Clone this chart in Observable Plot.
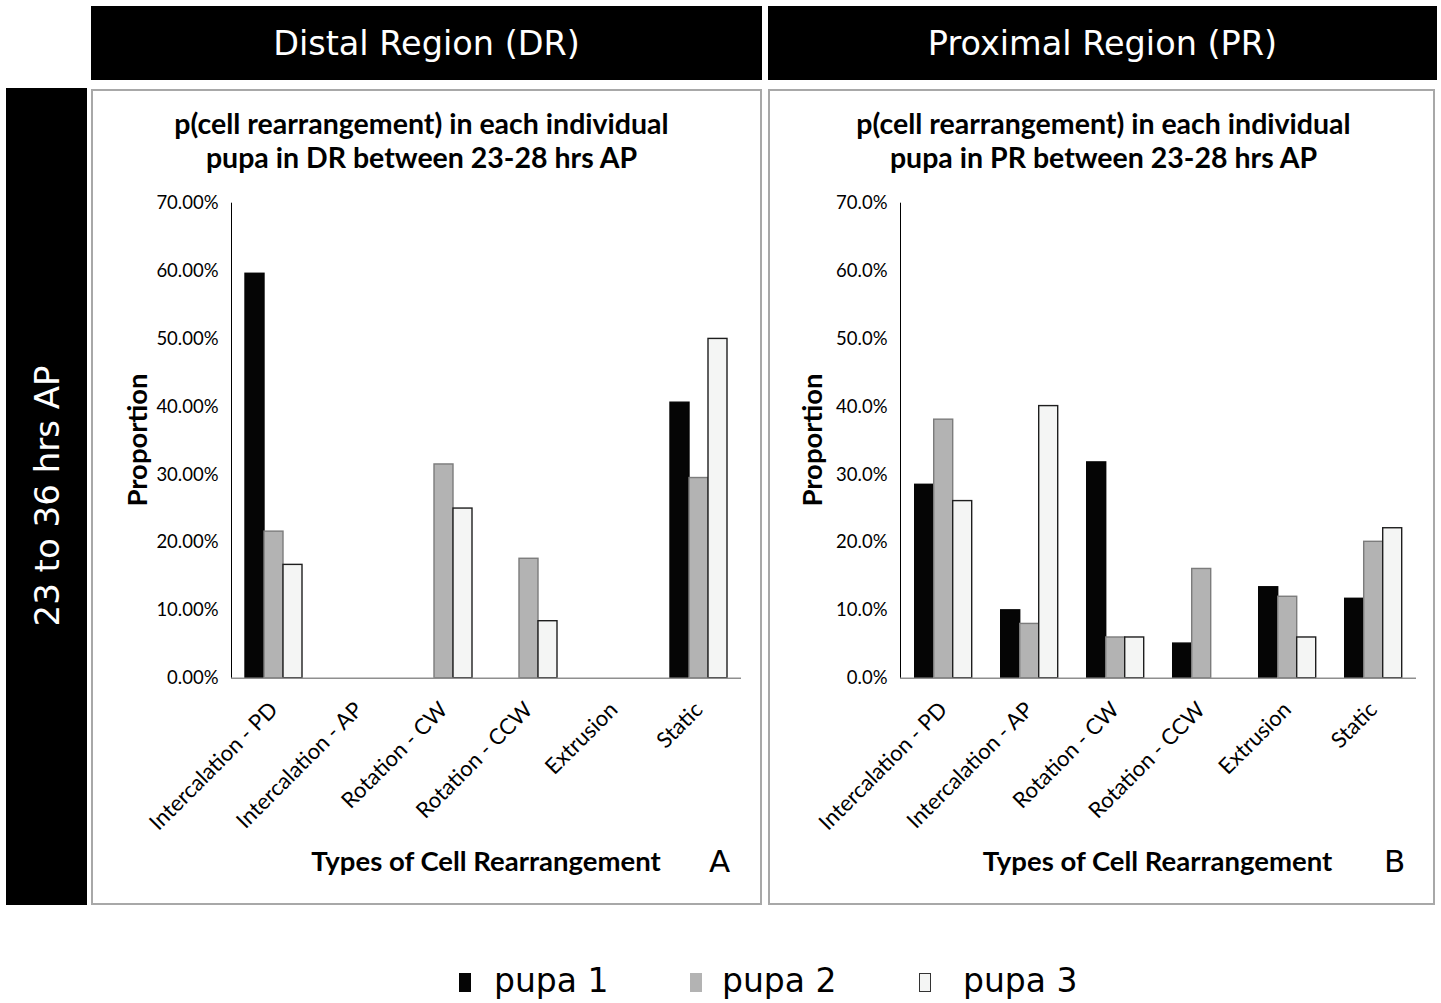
<!DOCTYPE html>
<html><head><meta charset="utf-8">
<script src="https://cdn.jsdelivr.net/npm/d3@7"></script>
<script src="https://cdn.jsdelivr.net/npm/@observablehq/plot@0.6"></script>
<style>
html,body{margin:0;padding:0;background:#fff}
body{width:1441px;height:1003px;position:relative;overflow:hidden}
.abs{position:absolute}
.hdr{background:#000;color:#fff;font:33.5px "DejaVu Sans";display:flex;align-items:center;justify-content:center;white-space:nowrap}
.panel{border:2px solid #a8a8a8;box-sizing:border-box}
.title{font:bold 28.5px Lato;text-align:center;line-height:34px;color:#000;white-space:nowrap}
.xt{font:bold 27.5px Lato;line-height:30px;color:#000;white-space:nowrap;text-align:center}
.yt{font:bold 27.5px Lato;line-height:30px;color:#000;white-space:nowrap;transform:translate(-50%,-50%) rotate(-90deg)}
.lett{font:31px "DejaVu Sans";line-height:34px;color:#000}
.side{font:34px "DejaVu Sans";color:#fff;white-space:nowrap;transform:translate(-50%,-50%) rotate(-90deg)}
.leg{font:33px "DejaVu Sans";color:#000;white-space:nowrap;line-height:38px}
svg [aria-label="fx-axis tick label"]{font-size:22px}
</style>
</head><body>
<script>
const categories = ["Intercalation - PD","Intercalation - AP","Rotation - CW","Rotation - CCW","Extrusion","Static"];
const pupae = ["pupa 1","pupa 2","pupa 3"];
const drPupa1 = [0.596, 0, 0, 0, 0, 0.406];
const drPupa2 = [0.216, 0, 0.315, 0.176, 0, 0.295];
const drPupa3 = [0.167, 0, 0.250, 0.084, 0, 0.500];
const prPupa1 = [0.285, 0.100, 0.318, 0.051, 0.134, 0.117];
const prPupa2 = [0.381, 0.080, 0.060, 0.161, 0.120, 0.201];
const prPupa3 = [0.261, 0.401, 0.060, 0, 0.060, 0.221];
const yTicks = [0, 0.1, 0.2, 0.3, 0.4, 0.5, 0.6, 0.7];
const drTickFormat = ".2%";
const prTickFormat = ".1%";
const headerTexts = ["Distal Region (DR)", "Proximal Region (PR)"];
const sideText = "23 to 36 hrs AP";
const drTitle = ["p(cell rearrangement) in each individual", "pupa in DR between 23-28 hrs AP"];
const prTitle = ["p(cell rearrangement) in each individual", "pupa in PR between 23-28 hrs AP"];
const yTitle = "Proportion";
const xTitle = "Types of Cell Rearrangement";
const panelLetters = ["A", "B"];
const fills = ["#050505", "#b3b3b3", "#f4f5f4"];
const strokes = ["#050505", "#7c7c7c", "#1e1e1e"];

function el(cls, css, text) {
  const d = document.createElement("div");
  d.className = "abs " + cls;
  Object.assign(d.style, css);
  if (text != null) d.textContent = text;
  document.body.appendChild(d);
  return d;
}

function panelChart(series, fmt, o) {
  const data = categories.flatMap((c, i) => series.map((s, j) => ({category: c, pupa: pupae[j], value: s[i]})));
  return Plot.plot({
    width: o.width, height: o.height,
    marginLeft: o.ml, marginRight: o.mr, marginTop: o.mt, marginBottom: o.mb,
    style: {fontFamily: "Lato", fontSize: "18.5px", color: "#000", background: "transparent", overflow: "visible"},
    fx: {domain: categories, padding: 0, label: null, axis: "bottom", tickRotate: -45, tickSize: 0, tickPadding: 28},
    x: {domain: pupae, paddingInner: 0, paddingOuter: o.pad, axis: null},
    y: {domain: [0, 0.7], ticks: yTicks, tickFormat: d3.format(fmt), tickSize: 0, tickPadding: 13, label: null, line: true},
    marks: [
      ...pupae.map((p, j) => Plot.barY(data, {
        filter: d => d.pupa === p && d.value > 0,
        fx: "category", x: "pupa", y: "value",
        fill: fills[j], stroke: strokes[j], strokeWidth: 1.4
      })),
      Plot.ruleY([0], {stroke: "#8f8f8f", strokeWidth: 1.5})
    ]
  });
}

// headers
el("hdr", {left: "91px", top: "6px", width: "671px", height: "74px"}, headerTexts[0]);
el("hdr", {left: "768px", top: "6px", width: "669px", height: "74px"}, headerTexts[1]);
el("", {left: "6px", top: "88px", width: "81px", height: "817px", background: "#000"});
el("side", {left: "46.5px", top: "496px"}, sideText);

// panels
el("panel", {left: "91px", top: "89px", width: "671px", height: "816px"});
el("panel", {left: "768px", top: "89px", width: "667px", height: "816px"});

const left = panelChart([drPupa1, drPupa2, drPupa3], drTickFormat, {width: 671, height: 816, ml: 140, mr: 21, mt: 113.7, mb: 227.3, pad: 0.70});
const lw = el("", {left: "91px", top: "89px"}); lw.appendChild(left);
const right = panelChart([prPupa1, prPupa2, prPupa3], prTickFormat, {width: 667, height: 816, ml: 129.3, mr: 17, mt: 113.7, mb: 227.3, pad: 0.76});
const rw = el("", {left: "768px", top: "89px"}); rw.appendChild(right);

// titles
const t1 = el("title", {left: "86px", top: "106px", width: "671px"}); t1.innerHTML = drTitle.join("<br>");
const t2 = el("title", {left: "770px", top: "106px", width: "667px"}); t2.innerHTML = prTitle.join("<br>");
el("xt", {left: "231px", top: "846px", width: "510px"}, xTitle);
el("xt", {left: "897px", top: "846px", width: "521px"}, xTitle);
el("yt", {left: "137px", top: "440px"}, yTitle);
el("yt", {left: "812px", top: "440px"}, yTitle);
el("lett", {left: "709px", top: "844px"}, panelLetters[0]);
el("lett", {left: "1384px", top: "844px"}, panelLetters[1]);

// legend
const legX = [459, 690, 919];
const legTextX = [494, 722, 963];
pupae.forEach((p, j) => {
  el("", {left: legX[j] + "px", top: "973px", width: "12px", height: "19px", background: fills[j], boxSizing: "border-box", border: j === 2 ? "1px solid #333" : "none"});
  el("leg", {left: legTextX[j] + "px", top: "962px"}, p);
});
</script>
</body></html>
